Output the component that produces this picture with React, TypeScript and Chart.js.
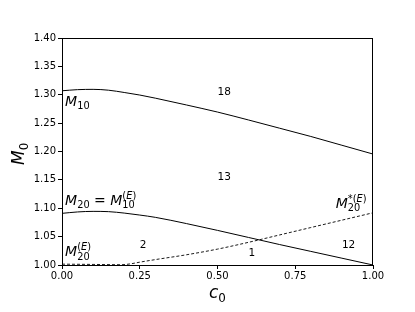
import React, { useEffect, useRef } from "react";
import { Chart, registerables } from "chart.js";

Chart.register(...registerables);

// ---- data ----
const c0M10 = [0, 0.05, 0.1, 0.15, 0.2, 0.25, 0.3, 0.4, 0.5, 0.6, 0.7, 0.8, 0.9, 1.0];
const M10 = [1.307, 1.309, 1.3095, 1.308, 1.304, 1.2995, 1.294, 1.282, 1.2695, 1.2555, 1.241, 1.2265, 1.211, 1.1955];

const c0M20 = [0, 0.05, 0.1, 0.15, 0.2, 0.25, 0.3, 0.4, 0.5, 0.6, 0.7, 0.8, 0.9, 1.0];
const M20 = [1.091, 1.0935, 1.0945, 1.094, 1.0915, 1.088, 1.084, 1.073, 1.061, 1.0485, 1.036, 1.024, 1.012, 1.0];

const c0M20E = [0, 0.1, 0.19, 0.22, 0.25, 0.3, 0.4, 0.5, 0.6, 0.7, 0.8, 0.9, 1.0];
const M20E = [1.0015, 1.001, 1.0005, 1.002, 1.005, 1.0095, 1.018, 1.028, 1.04, 1.053, 1.066, 1.079, 1.092];

const xTicks = [0, 0.25, 0.5, 0.75, 1.0];
const yRange = [1.0, 1.4];

const regionLabels = ["18", "13", "2", "1", "12"];
const regionX = [0.5, 0.5, 0.25, 0.6, 0.9];
const regionY = [1.3, 1.15, 1.03, 1.015, 1.03];

type Run = { s: string; it?: boolean; lv?: number; back?: boolean };
const curveLabels: Run[][] = [
  [{ s: "M", it: true }, { s: "10", lv: -1 }],
  [
    { s: "M", it: true },
    { s: "20", lv: -1 },
    { s: " = " },
    { s: "M", it: true },
    { s: "10", lv: -1 },
    { s: "(", lv: 1, back: true },
    { s: "E", lv: 1, it: true },
    { s: ")", lv: 1 },
  ],
  [
    { s: "M", it: true },
    { s: "20", lv: -1 },
    { s: "(", lv: 1, back: true },
    { s: "E", lv: 1, it: true },
    { s: ")", lv: 1 },
  ],
  [
    { s: "M", it: true },
    { s: "20", lv: -1 },
    { s: "*(", lv: 1, back: true },
    { s: "E", lv: 1, it: true },
    { s: ")", lv: 1 },
  ],
];
const curveLabelX = [0.01, 0.01, 0.01, 0.88];
const curveLabelY = [1.28, 1.105, 1.015, 1.1];

const FAM = "'DejaVu Sans'";

function drawMath(ctx: CanvasRenderingContext2D, runs: Run[], x: number, y: number, size: number) {
  let cx = x;
  let lastStart = x;
  for (const r of runs) {
    const lv = r.lv || 0;
    const fs = lv === 0 ? size : size * 0.7;
    const dy = lv === -1 ? size * 0.22 : lv === 1 ? -size * 0.43 : 0;
    if (r.back) cx = lastStart;
    ctx.font = `${r.it ? "italic " : ""}${fs}px ${FAM}`;
    if (!r.back && !(lv === 1)) lastStart = cx;
    ctx.fillText(r.s, cx, y + dy);
    cx += ctx.measureText(r.s).width;
  }
}

function pts(xs: number[], ys: number[]) {
  return xs.map((x, i) => ({ x, y: ys[i] }));
}

const overlay = {
  id: "overlay",
  afterDraw(chart: any) {
    const ctx: CanvasRenderingContext2D = chart.ctx;
    const { left, right, top, bottom } = chart.chartArea;
    const xs = chart.scales.x;
    const ys = chart.scales.y;
    ctx.save();
    // frame
    ctx.strokeStyle = "#000";
    ctx.lineWidth = 1;
    ctx.strokeRect(left + 0.5, top + 0.5, right - left - 1, bottom - top);
    ctx.fillStyle = "#000";
    ctx.textAlign = "left";
    ctx.textBaseline = "alphabetic";
    // region numbers
    ctx.font = `10.5px ${FAM}`;
    regionLabels.forEach((t, i) => {
      ctx.fillText(t, xs.getPixelForValue(regionX[i]), ys.getPixelForValue(regionY[i]));
    });
    // curve labels
    curveLabels.forEach((runs, i) => {
      drawMath(ctx, runs, xs.getPixelForValue(curveLabelX[i]), ys.getPixelForValue(curveLabelY[i]), 14);
    });
    // axis titles
    drawMath(ctx, [{ s: "c", it: true }, { s: "0", lv: -1 }], 209, 298, 17);
    ctx.translate(24, 165);
    ctx.rotate(-Math.PI / 2);
    drawMath(ctx, [{ s: "M", it: true }, { s: "0", lv: -1 }], 0, 0, 17);
    ctx.restore();
  },
};

export default function App() {
  const ref = useRef<HTMLCanvasElement>(null);
  useEffect(() => {
    document.body.style.margin = "0";
    const canvas = ref.current!;
    const lineBase = {
      borderColor: "#000",
      borderWidth: 1,
      pointRadius: 0,
      fill: false,
      cubicInterpolationMode: "monotone" as const,
    };
    const chart = new Chart(canvas, {
      type: "line",
      data: {
        datasets: [
          { ...lineBase, label: "M10", data: pts(c0M10, M10) },
          { ...lineBase, label: "M20", data: pts(c0M20, M20) },
          { ...lineBase, label: "M20E", data: pts(c0M20E, M20E), borderDash: [3, 2], borderWidth: 0.9 },
        ],
      },
      options: {
        responsive: false,
        animation: false,
        events: [],
        layout: { padding: { left: 0, top: 38, right: 42, bottom: 0 } },
        plugins: { legend: { display: false }, tooltip: { enabled: false } },
        scales: {
          x: {
            type: "linear",
            min: 0,
            max: 1,
            afterFit: (s: any) => {
              s.height = 47;
            },
            afterBuildTicks: (s: any) => {
              s.ticks = xTicks.map((v) => ({ value: v }));
            },
            ticks: {
              color: "#000",
              font: { family: "DejaVu Sans", size: 10 },
              padding: 1,
              maxRotation: 0,
              autoSkip: false,
              callback: (v: any) => Number(v).toFixed(2),
            },
            grid: { drawOnChartArea: false, drawTicks: true, tickLength: 4, color: "#000" },
            border: { display: true, color: "#000", width: 1 },
          },
          y: {
            type: "linear",
            min: yRange[0],
            max: yRange[1],
            afterFit: (s: any) => {
              s.width = 62;
            },
            ticks: {
              stepSize: 0.05,
              color: "#000",
              font: { family: "DejaVu Sans", size: 10 },
              padding: 2,
              autoSkip: false,
              callback: (v: any) => Number(v).toFixed(2),
            },
            grid: { drawOnChartArea: false, drawTicks: true, tickLength: 4, color: "#000" },
            border: { display: true, color: "#000", width: 1 },
          },
        },
      },
      plugins: [overlay],
    });
    return () => chart.destroy();
  }, []);
  return (
    <div style={{ position: "absolute", left: 0, top: 0, width: 415, height: 312, background: "#fff" }}>
      <canvas ref={ref} width={415} height={312} />
    </div>
  );
}
